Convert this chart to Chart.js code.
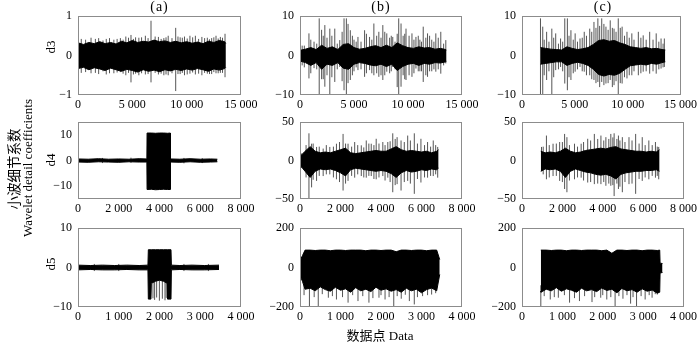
<!DOCTYPE html>
<html><head><meta charset="utf-8">
<script src="https://cdn.jsdelivr.net/npm/chart.js@4.4.1/dist/chart.umd.min.js"></script>
<style>
body{margin:0;background:#fff;width:700px;height:342px;overflow:hidden;position:relative;font-family:"Liberation Serif","Noto Sans CJK SC",serif;}
canvas{position:absolute;left:0;top:0;}
.t{position:absolute;white-space:nowrap;color:#000;line-height:1;z-index:5;}
.rot{transform:translate(-50%,-50%) rotate(-90deg);}
.ctr{transform:translate(-50%,-50%);}
.cjk{font-family:"Noto Sans CJK SC",sans-serif;}
</style></head><body>
<div class="t ctr" style="left:159.5px;top:7px;font-size:14px;letter-spacing:1px">(a)</div>
<div class="t ctr" style="left:381px;top:7px;font-size:14px;letter-spacing:1px">(b)</div>
<div class="t ctr" style="left:603px;top:7px;font-size:14px;letter-spacing:1px">(c)</div>
<div class="t rot" style="left:49.5px;top:47px;font-size:13px">d3</div>
<div class="t rot" style="left:49.5px;top:160px;font-size:13px">d4</div>
<div class="t rot" style="left:49.5px;top:264px;font-size:13px">d5</div>
<div class="t rot cjk" style="left:14px;top:169px;font-size:13.5px">小波细节系数</div>
<div class="t rot" style="left:27px;top:168px;font-size:13px">Wavelet detail coefficients</div>
<div class="t ctr" style="left:380px;top:335px;font-size:13px"><span class="cjk">数据点</span> Data</div>
<script>
// ---------- tick values ----------
const xTicks15k = [0, 5000, 10000, 15000];
const xTicks8k = [0, 2000, 4000, 6000, 8000];
const xTicks4k = [0, 1000, 2000, 3000, 4000];
const yTicksA3 = [-1, 0, 1];
const yTicks10 = [-10, 0, 10];
const yTicks50 = [-50, 0, 50];
const yTicks200 = [-200, 0, 200];

// ---------- (a) d3 ----------
const A3_x = [0,500,1000,1500,2000,2500,3000,3500,4000,4500,5000,5500,6000,6500,7000,7500,8000,8500,9000,9500,10000,10500,11000,11500,12000,12500,13000,13500,13600];
const A3_hi = [0.32,0.28,0.33,0.30,0.35,0.30,0.33,0.29,0.36,0.32,0.38,0.33,0.36,0.34,0.39,0.35,0.37,0.33,0.36,0.32,0.35,0.31,0.34,0.30,0.36,0.33,0.38,0.35,0.30];
const A3_lo = [-0.33,-0.30,-0.36,-0.31,-0.34,-0.38,-0.32,-0.36,-0.40,-0.35,-0.38,-0.42,-0.36,-0.40,-0.37,-0.41,-0.36,-0.39,-0.35,-0.38,-0.34,-0.37,-0.33,-0.36,-0.40,-0.34,-0.37,-0.33,-0.30];
const A3_sx = [300,1200,1900,2600,3300,3900,4400,4877,5300,5600,6200,6718,7400,7900,8300,8990,9400,9800,10300,10800,11400,11900,12300,12700,13100,13530];
const A3_shi = [0.42,0.45,0.44,0.42,0.40,0.44,0.48,0.52,0.46,0.45,0.50,0.88,0.47,0.44,0.50,0.70,0.46,0.48,0.50,0.50,0.47,0.45,0.44,0.50,0.47,0.55];
const A3_slo = [-0.44,-0.45,-0.47,-0.48,-0.45,-0.42,-0.50,-0.68,-0.46,-0.50,-0.48,-0.68,-0.48,-0.50,-0.50,-0.90,-0.47,-0.50,-0.46,-0.48,-0.50,-0.46,-0.47,-0.45,-0.44,-0.55];
const A3_fx = [700,1600,2300,2900,3600,4150,4650,5100,5850,6450,7100,7650,8100,8650,9200,9600,10050,10550,11100,11650,12100,12500,12900,13300];
const A3_fhi = [0.40,0.42,0.38,0.44,0.42,0.40,0.45,0.42,0.46,0.44,0.48,0.42,0.46,0.44,0.48,0.45,0.43,0.46,0.42,0.44,0.41,0.46,0.43,0.45];
const A3_flo = [-0.42,-0.44,-0.40,-0.45,-0.43,-0.46,-0.44,-0.48,-0.45,-0.47,-0.44,-0.46,-0.48,-0.45,-0.47,-0.44,-0.48,-0.43,-0.46,-0.44,-0.47,-0.42,-0.45,-0.44];

// ---------- (b) d3 ----------
const B3_x = [0,500,1000,1500,2000,2500,3000,3500,4000,4500,5000,5500,6000,6500,7000,7500,8000,8500,9000,9500,10000,10500,11000,11500,12000,12500,13000,13500,13550];
const B3_hi = [1.3,1.6,2.0,1.5,2.6,1.8,2.2,1.5,2.8,3.0,2.0,1.6,1.8,2.2,2.5,2.0,2.6,2.0,3.2,2.5,2.0,1.8,2.2,1.9,2.0,1.6,1.8,1.5,1.4];
const B3_lo = [-1.4,-1.8,-2.5,-1.8,-3.5,-2.2,-2.5,-1.8,-3.2,-3.5,-2.2,-1.8,-2.0,-2.4,-2.6,-2.2,-2.8,-2.2,-3.8,-2.8,-2.2,-2.0,-2.5,-2.0,-2.2,-1.8,-1.9,-1.6,-1.5];
const B3_sx = [400,828,1300,1779,2000,2300,2760,3220,3680,4078,4293,4450,4660,5000,5367,5980,6440,6840,7300,7668,8036,8300,8588,9000,9140,9355,9550,9815,10367,10735,11100,11410,11809,12200,12576,13036,13500];
const B3_shi = [2.5,5.6,3.5,9.4,6.5,7.7,6.8,6.8,3.9,9.4,9.4,8.0,6.4,4.0,4.7,6.4,4.7,8.1,6.0,7.7,5.6,4.5,4.7,5.5,9.4,8.1,5.0,6.8,5.6,4.7,4.0,7.3,5.6,4.0,5.6,6.0,3.9];
const B3_slo = [-3.0,-5.8,-3.2,-10,-6.0,-7.9,-10,-6.7,-2.9,-8.8,-10,-7.0,-6.2,-4.0,-3.7,-5.4,-3.7,-5.0,-5.4,-6.2,-4.1,-4.5,-2.9,-8.0,-10,-7.9,-5.0,-6.2,-5.4,-3.3,-4.0,-6.7,-5.4,-4.0,-4.1,-4.6,-2.0];
const B3_fx = [200,1000,1550,2150,2500,2950,3450,3900,4850,5200,5650,6150,6650,7100,7500,7850,8450,8800,9700,10100,10550,10950,11250,11650,12000,12400,12800,13300];
const B3_fhi = [2.5,4.0,3.0,5.0,4.5,5.0,3.0,6.0,5.0,3.5,3.5,5.5,4.0,5.0,4.5,6.0,5.0,3.5,5.5,5.0,4.0,5.0,3.5,4.5,5.0,3.5,4.5,3.0];
const B3_flo = [-2.5,-4.5,-3.5,-6.0,-5.0,-5.5,-3.5,-6.5,-5.0,-3.0,-3.5,-4.5,-4.5,-4.5,-5.0,-5.0,-4.0,-3.5,-6.0,-5.0,-4.5,-4.0,-4.0,-5.0,-4.0,-3.5,-3.5,-2.5];

// ---------- (c) d3 ----------
const C3_x = [1750,2250,2750,3250,3750,4250,4750,5250,5750,6250,6750,7250,7750,8250,8750,9250,9750,10250,10750,11250,11750,12250,12750,13250,13560];
const C3_hi = [2.0,1.8,1.6,1.5,1.4,2.2,1.8,1.5,1.7,2.0,2.8,3.8,4.0,3.6,3.8,3.2,2.8,2.2,2.0,1.8,2.0,1.7,1.8,1.5,1.4];
const C3_lo = [-2.2,-2.0,-1.8,-1.6,-1.6,-2.5,-2.0,-1.7,-2.0,-2.5,-3.5,-4.8,-5.2,-4.8,-5.0,-4.5,-3.5,-2.6,-2.4,-2.2,-2.4,-2.0,-2.2,-1.8,-1.6];
const C3_sx = [1748,1963,2331,2822,3190,3650,4048,4293,4630,5030,5490,5890,6410,6810,7180,7545,7945,8350,8710,9110,9475,9935,10395,11010,11470,12083,12700,13160,13470];
const C3_shi = [9.4,7.3,6.0,6.8,5.6,4.3,9.4,9.4,6.4,5.6,4.3,6.0,6.8,8.5,9.4,9.4,7.3,8.9,6.8,9.4,7.3,6.0,5.6,6.0,5.1,6.0,5.6,4.3,4.3];
const C3_slo = [-10,-10,-6.2,-10,-3.7,-2.9,-7.1,-8.8,-6.2,-4.1,-2.9,-4.1,-5.0,-6.2,-6.7,-6.7,-7.1,-6.2,-7.5,-10,-7.1,-5.8,-5.0,-5.0,-4.1,-4.6,-4.6,-3.3,-2.9];
const C3_fx = [2100,2550,3000,3450,3850,4450,4850,5250,5700,6100,6600,7000,7350,7750,8150,8550,8900,9300,9700,10150,10600,11250,11750,12400,12950,13350];
const C3_fhi = [4,3.5,4.5,3,3.5,5,4,3.5,4.5,5,6,7,7.5,8,6.5,7,6,7,5,4.5,4,4.5,4,4,3.5,3];
const C3_flo = [-5,-4,-5.5,-3.5,-4,-5.5,-4.5,-3.5,-4,-5,-6,-7,-8,-7.5,-7,-8,-6.5,-7,-5.5,-5,-4,-4.5,-4,-4,-3.5,-3];

// ---------- (a) d4 ----------
const A4_x = [0,500,1000,1500,2000,2500,3000,3380,3390,3600,3800,4000,4200,4400,4530,4540,5000,5500,6000,6500,6840];
const A4_hi = [0.6,0.5,0.7,0.5,0.6,0.5,0.7,0.6,10.7,10.7,10.6,10.7,10.7,10.6,10.7,0.6,0.5,0.7,0.5,0.6,0.5];
const A4_lo = [-0.6,-0.7,-0.5,-0.6,-0.7,-0.5,-0.6,-0.6,-11.3,-11.2,-11.4,-11.3,-11.2,-11.3,-11.3,-0.6,-0.7,-0.5,-0.7,-0.6,-0.5];
const A4_sx = [1200,2600,5200,6100];
const A4_shi = [1.0,1.1,1.0,0.9];
const A4_slo = [-1.0,-0.9,-1.1,-1.0];

// ---------- (b) d4 ----------
const B4_x = [0,250,500,750,1000,1250,1500,1750,2000,2250,2500,2750,3000,3250,3500,3750,4000,4250,4500,4750,5000,5250,5500,5750,6000,6250,6500,6750,6840];
const B4_hi = [5,12,18,12,10,11,10,12,14,16,10,9,10,11,12,13,12,12,15,18,14,12,13,12,11,12,10,12,14];
const B4_lo = [-6,-14,-22,-14,-11,-12,-11,-13,-16,-20,-12,-10,-11,-12,-13,-14,-13,-14,-17,-22,-16,-13,-15,-14,-12,-13,-11,-12,-10];
const B4_sx = [82,442,573,818,1145,1472,1800,2127,2372,2700,3027,3272,3518,3763,4090,4336,4581,4795,4990,5318,5645,5972,6300,6580,6800];
const B4_shi = [9.2,35.3,21.8,17.6,15.5,17.6,21.8,34.5,21.8,24,19.7,26,21.8,28.2,24,24,35.3,30.3,26,32.4,35.3,28.2,24,26,17.6];
const B4_slo = [-9.7,-50,-34.9,-26.5,-20.2,-18,-24.4,-39,-26.5,-22.3,-20.2,-22.3,-20.2,-24.4,-20.2,-22.3,-41.2,-30.7,-39,-26.5,-43.3,-28.6,-22.3,-20.2,-22.3];
const B4_fx = [300,650,950,1300,1650,1950,2250,2550,2850,3150,3400,3650,3900,4200,4450,4700,5150,5450,5800,6150,6450,6700];
const B4_fhi = [20,22,18,20,18,24,22,18,20,17,22,20,22,20,25,28,24,26,22,20,18,20];
const B4_flo = [-22,-25,-20,-18,-22,-28,-30,-20,-18,-22,-20,-24,-22,-26,-28,-32,-28,-30,-24,-22,-20,-18];

// ---------- (c) d4 ----------
const C4_x = [930,1150,1400,1650,1900,2150,2400,2650,2900,3150,3400,3650,3900,4150,4400,4650,4900,5150,5400,5650,5900,6150,6400,6650,6810];
const C4_hi = [12,10,11,10,12,16,12,10,11,13,14,15,16,15,17,18,15,14,13,12,12,11,12,11,14];
const C4_lo = [-14,-11,-12,-11,-14,-22,-14,-11,-13,-15,-16,-18,-19,-18,-20,-24,-18,-16,-15,-14,-14,-13,-13,-12,-14];
const C4_sx = [966,1210,1538,1865,2110,2225,2600,2930,3255,3583,3910,4155,4400,4564,4777,4970,5300,5630,5956,6283,6610,6773];
const C4_shi = [17.6,32.4,21.8,24,34.5,30.3,21.8,21.8,28.2,34.5,32.4,30.3,34.5,35.3,32.4,30.3,30.3,34.5,30.3,26,24,17.6];
const C4_slo = [-13.9,-24.4,-20.2,-26.5,-37,-41.2,-24.4,-22.3,-28.6,-30.7,-30.7,-32.8,-32.8,-46.2,-37,-41.2,-30.7,-43.3,-26.5,-24.4,-22.3,-24.4];
const C4_fx = [1050,1350,1700,2000,2350,2750,3050,3400,3750,4050,4300,4500,4700,4850,5100,5450,5800,6100,6450,6700];
const C4_fhi = [18,20,22,24,20,18,24,26,28,26,28,30,28,26,24,26,22,20,20,18];
const C4_flo = [-18,-22,-20,-28,-26,-22,-26,-28,-30,-28,-30,-32,-30,-34,-28,-30,-24,-22,-20,-20];

// ---------- (a) d5 ----------
const A5_x = [0,300,600,900,1200,1500,1716,1726,1790,1800,1900,2000,2100,2190,2200,2282,2292,2500,2800,3100,3460];
const A5_hi = [0.6,0.5,0.6,0.5,0.6,0.5,0.6,4.5,4.5,4.5,4.5,4.5,4.5,4.5,4.5,4.5,0.6,0.5,0.6,0.5,0.6];
const A5_lo = [-0.6,-0.5,-0.6,-0.6,-0.5,-0.6,-0.6,-8.0,-8.0,-4.0,-3.5,-3.2,-3.5,-4.0,-8.0,-8.0,-0.6,-0.5,-0.6,-0.6,-0.5];
const A5_sx = [400,1000,1840,1880,1930,1997,2070,2135,2165,2600,3200];
const A5_shi = [0.9,0.9,0,0,0,0,0,0,0,0.9,0.9];
const A5_slo = [-0.9,-0.9,-7.8,-8.2,-7.6,-8.4,-7.9,-8.3,-7.7,-0.9,-0.9];

// ---------- (b) d5 ----------
const B5_x = [0,60,125,250,375,500,625,750,875,1000,1125,1250,1375,1500,1625,1750,1875,2000,2125,2250,2375,2500,2625,2750,2875,3000,3125,3250,3375,3450];
const B5_hi = [35,60,88,88,86,88,88,85,88,88,86,88,88,88,85,88,88,86,88,88,80,88,88,86,88,88,85,88,88,40];
const B5_lo = [-40,-70,-110,-105,-118,-98,-112,-120,-100,-115,-108,-125,-102,-118,-110,-122,-100,-115,-108,-120,-112,-125,-105,-118,-110,-128,-112,-104,-118,-35];
const B5_sx = [233,451,700,900,1187,1432,1702,1950,2100,2315,2500,2700,2822,3027,3250];
const B5_shi = [-90,-90,-90,-90,-90,-90,-90,-90,-90,-90,-90,-90,-90,-90,-90];
const B5_slo = [-198,-198,-153,-162,-178,-170,-178,-153,-162,-198,-158,-170,-187,-145,-137];
const B5_fx = [100,350,550,800,1050,1300,1550,1800,2000,2200,2400,2600,2900,3150,3350];
const B5_fhi = [-90,-90,-90,-90,-90,-90,-90,-90,-90,-90,-90,-90,-90,-90,-90];
const B5_flo = [-140,-150,-135,-145,-150,-140,-145,-155,-140,-150,-145,-138,-150,-140,-130];

// ---------- (c) d5 ----------
const C5_x = [466,470,600,725,850,975,1100,1225,1350,1475,1600,1725,1850,1975,2100,2225,2350,2475,2600,2725,2850,2975,3100,3225,3350,3411,3420,3480];
const C5_hi = [88,88,88,86,88,88,85,88,88,86,88,88,88,85,88,72,88,88,86,88,88,85,88,88,86,88,22,20];
const C5_lo = [-120,-125,-110,-118,-102,-120,-108,-115,-125,-105,-118,-112,-122,-104,-116,-110,-128,-106,-118,-112,-125,-108,-120,-114,-130,-125,-28,-25];
const C5_sx = [466,700,900,1178,1423,1734,1950,2100,2306,2500,2690,2837,3050,3222,3350];
const C5_shi = [-90,-90,-90,-90,-90,-90,-90,-90,-90,-90,-90,-90,-90,-90,-90];
const C5_slo = [-198,-162,-153,-178,-170,-175,-153,-162,-198,-158,-183,-198,-162,-153,-137];
const C5_fx = [550,800,1050,1300,1550,1800,2000,2200,2400,2600,2750,2950,3150,3300];
const C5_fhi = [-90,-90,-90,-90,-90,-90,-90,-90,-90,-90,-90,-90,-90,-90];
const C5_flo = [-145,-150,-140,-155,-145,-150,-140,-150,-145,-140,-150,-145,-140,-135];

// ---------- layout ----------
const cols = [{L:78,R:241},{L:300,R:462},{L:522,R:684}];
const rows = [{T:16,B:95},{T:122,B:199},{T:228,B:307}];
const YW = 30, XH = 20, W = 700, H = 342;
const FONT = {family:'"Liberation Serif", serif', size:12};

const boxPlugin = {id:'box', afterDraw(chart){
  const a = chart.chartArea, c = chart.ctx;
  c.save(); c.strokeStyle = '#8c8c8c'; c.lineWidth = 1;
  c.strokeRect(Math.round(a.left)+0.5, Math.round(a.top)+0.5, Math.round(a.right-a.left)-1, Math.round(a.bottom-a.top)-1);
  c.restore();
}};
function fmtX(v){ return String(v).replace(/\B(?=(\d{3})+(?!\d))/g, ' '); }
function fmtY(v){ return v < 0 ? '\u2212' + Math.abs(v) : String(v); }

function panel(ci, ri, xMax, xTicks, yMin, yMax, yTicks, cx, chi, clo, sx, shi, slo){
  const col = cols[ci], row = rows[ri];
  const cv = document.createElement('canvas');
  cv.width = W; cv.height = H; cv.style.width = W+'px'; cv.style.height = H+'px';
  document.body.appendChild(cv);
  const spikes = [];
  const n = Math.min(sx.length, shi.length, slo.length);
  for (let i = 0; i < n; i++){
    spikes.push({x:sx[i], y:slo[i]}, {x:sx[i], y:shi[i]}, {x:sx[i], y:null});
  }
  new Chart(cv, {
    type:'line',
    data:{datasets:[
      {data: cx.map((x,i)=>({x, y:chi[i]})), borderColor:'#000', backgroundColor:'#000', borderWidth:1, fill:'+1', pointRadius:0, tension:0},
      {data: cx.map((x,i)=>({x, y:clo[i]})), borderColor:'#000', borderWidth:1, fill:false, pointRadius:0, tension:0},
      {data: spikes, borderColor:'#555', borderWidth:1, fill:false, pointRadius:0, tension:0, spanGaps:false}
    ]},
    options:{
      responsive:false, animation:false, devicePixelRatio:1,
      events:[],
      layout:{padding:{left:col.L-YW, top:row.T, right:W-col.R, bottom:H-row.B-XH}},
      plugins:{legend:{display:false}, tooltip:{enabled:false}},
      scales:{
        x:{type:'linear', min:0, max:xMax,
           afterBuildTicks:s=>{s.ticks = xTicks.map(v=>({value:v}));},
           afterFit:s=>{s.height = XH;},
           grid:{display:false, drawTicks:false}, border:{display:false},
           ticks:{font:FONT, color:'#000', padding:3, maxRotation:0, autoSkip:false, callback:v=>fmtX(v)}},
        y:{type:'linear', min:yMin, max:yMax,
           afterBuildTicks:s=>{s.ticks = yTicks.map(v=>({value:v}));},
           afterFit:s=>{s.width = YW;},
           grid:{display:false, drawTicks:false}, border:{display:false},
           ticks:{font:FONT, color:'#000', padding:6, autoSkip:false, callback:v=>fmtY(v)}}
      }
    },
    plugins:[boxPlugin]
  });
}

panel(0,0,15000,xTicks15k,-1,1,yTicksA3,A3_x,A3_hi,A3_lo,A3_sx.concat(A3_fx),A3_shi.concat(A3_fhi),A3_slo.concat(A3_flo));
panel(1,0,15000,xTicks15k,-10,10,yTicks10,B3_x,B3_hi,B3_lo,B3_sx.concat(B3_fx),B3_shi.concat(B3_fhi),B3_slo.concat(B3_flo));
panel(2,0,15000,xTicks15k,-10,10,yTicks10,C3_x,C3_hi,C3_lo,C3_sx.concat(C3_fx),C3_shi.concat(C3_fhi),C3_slo.concat(C3_flo));
panel(0,1,8000,xTicks8k,-15,15,yTicks10,A4_x,A4_hi,A4_lo,A4_sx,A4_shi,A4_slo);
panel(1,1,8000,xTicks8k,-50,50,yTicks50,B4_x,B4_hi,B4_lo,B4_sx.concat(B4_fx),B4_shi.concat(B4_fhi),B4_slo.concat(B4_flo));
panel(2,1,8000,xTicks8k,-50,50,yTicks50,C4_x,C4_hi,C4_lo,C4_sx.concat(C4_fx),C4_shi.concat(C4_fhi),C4_slo.concat(C4_flo));
panel(0,2,4000,xTicks4k,-10,10,yTicks10,A5_x,A5_hi,A5_lo,A5_sx,A5_shi,A5_slo);
panel(1,2,4000,xTicks4k,-200,200,yTicks200,B5_x,B5_hi,B5_lo,B5_sx.concat(B5_fx),B5_shi.concat(B5_fhi),B5_slo.concat(B5_flo));
panel(2,2,4000,xTicks4k,-200,200,yTicks200,C5_x,C5_hi,C5_lo,C5_sx.concat(C5_fx),C5_shi.concat(C5_fhi),C5_slo.concat(C5_flo));
</script>
</body></html>
